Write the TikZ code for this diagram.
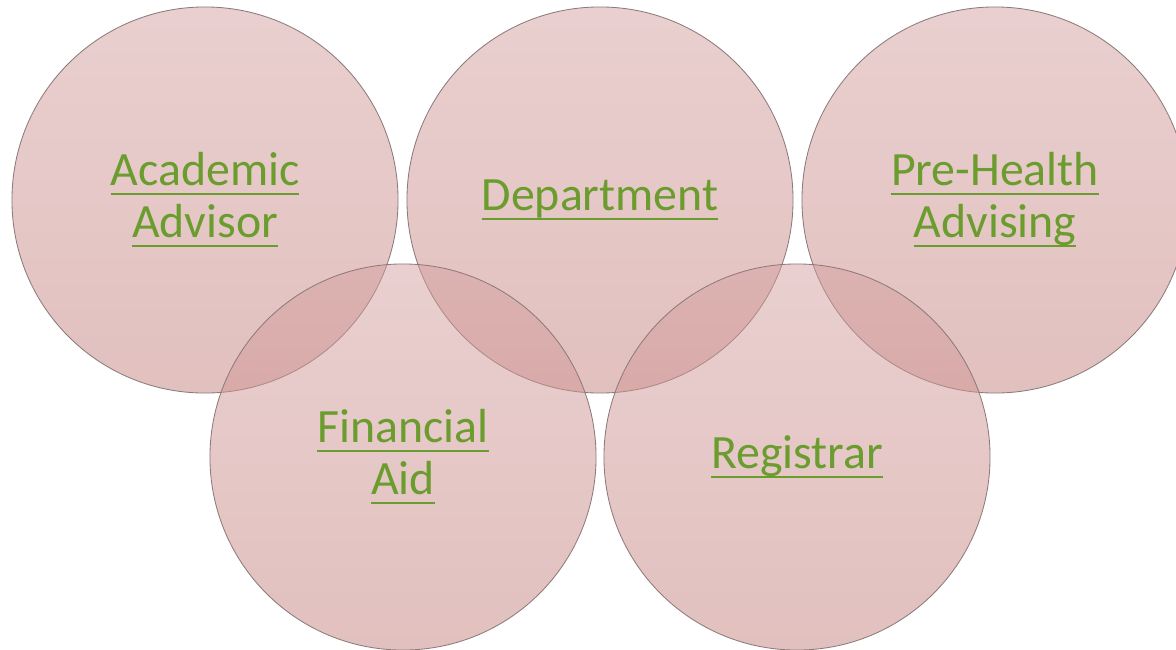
\documentclass[tikz,border=0pt]{standalone}
\usepackage{fontspec}
\setmainfont{Carlito}
\definecolor{linkgreen}{RGB}{106,156,46}
\definecolor{ringtop}{RGB}{212,160,160}
\definecolor{ringbot}{RGB}{196,130,126}
\definecolor{ringline}{RGB}{140,122,122}
\newcommand{\linkul}[1]{\setbox0\hbox{#1}\rlap{\rule[-0.2em]{\wd0}{1.8pt}}\box0}

\begin{document}
\begin{tikzpicture}[x=0.025cm,y=-0.025cm,
	ring/.style={draw=ringline,line width=0.6pt,circle,minimum size=9.65cm,inner sep=0,
		top color=ringtop,bottom color=ringbot,fill opacity=0.5,text opacity=1,
		text=linkgreen,align=center,font=\fontsize{34}{37}\selectfont}]
	\useasboundingbox (0,0) rectangle (1176,650);
	\clip (0,0) rectangle (1176,650);
	\node[ring] (acad) at (205,200) {\linkul{Academic}\\\linkul{Advisor}};
	\node[ring] (dept) at (600,200) {\linkul{Department}};
	\node[ring] (prehealth) at (995,200) {\linkul{Pre-Health}\\\linkul{Advising}};
	\node[ring] (finaid) at (403,457) {\linkul{Financial}\\\linkul{Aid}};
	\node[ring] (registrar) at (797,457) {\linkul{Registrar}};
\end{tikzpicture}
\end{document}
